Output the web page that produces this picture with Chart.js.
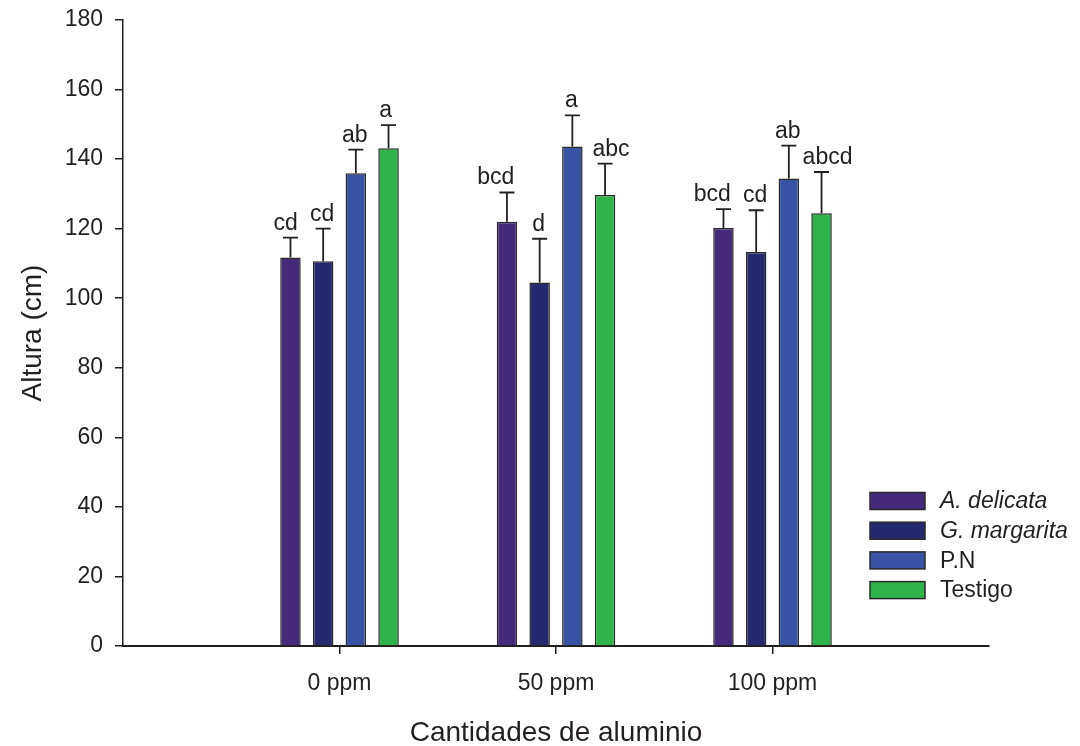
<!DOCTYPE html>
<html>
<head>
<meta charset="utf-8">
<script src="https://cdn.jsdelivr.net/npm/chart.js@4.4.1/dist/chart.umd.min.js"></script>
<style>
  html, body { margin: 0; padding: 0; background: #ffffff; }
  #wrap { width: 1080px; height: 746px; position: relative; }
</style>
</head>
<body>
<div id="wrap"><canvas id="c" width="1080" height="746"></canvas></div>
<script>
// ---- data ----
const categories = ['0 ppm', '50 ppm', '100 ppm'];
const seriesNames = ['A. delicata', 'G. margarita', 'P.N', 'Testigo'];
const aDelicata  = [111.7, 122.0, 120.2];
const gMargarita = [110.6, 104.5, 113.3];
const pn         = [135.9, 143.6, 134.4];
const testigo    = [143.1, 129.7, 124.4];
const errADelicata  = [5.7, 8.4, 5.4];
const errGMargarita = [9.4, 12.6, 12.0];
const errPn         = [6.8, 9.0, 9.5];
const errTestigo    = [6.7, 9.0, 11.9];
const letADelicata  = ['cd', 'bcd', 'bcd'];
const letGMargarita = ['cd', 'd', 'cd'];
const letPn         = ['ab', 'a', 'ab'];
const letTestigo    = ['a', 'abc', 'abcd'];
const yTicks = [0, 20, 40, 60, 80, 100, 120, 140, 160, 180];

// ---- styles ----
const colors = ['#45297b', '#252a70', '#3853a3', '#2fb34b'];
const italicNames = [true, true, false, false];
const FONT = 'Arial, "Liberation Sans", Helvetica, sans-serif';
const INK = '#231f20';

const values = [aDelicata, gMargarita, pn, testigo];
const errs = [errADelicata, errGMargarita, errPn, errTestigo];
const lets = [letADelicata, letGMargarita, letPn, letTestigo];

// padded labels: empty slot on each side of the categories
const labels = [''].concat(categories, ['']);
const pad = arr => [null].concat(arr, [null]);

const datasets = seriesNames.map((name, i) => ({
  label: name,
  data: pad(values[i]),
  errors: pad(errs[i]),
  letters: pad(lets[i]),
  backgroundColor: colors[i],
  borderColor: '#2a2a2a',
  borderWidth: 1.5,
  borderSkipped: 'bottom',
  categoryPercentage: 0.604,
  barPercentage: 0.627
}));

const errorBarPlugin = {
  id: 'errorBars',
  afterDatasetsDraw(chart) {
    const ctx = chart.ctx;
    const y = chart.scales.y;
    const nds = chart.data.datasets.length;
    ctx.save();
    chart.data.datasets.forEach((ds, di) => {
      const meta = chart.getDatasetMeta(di);
      meta.data.forEach((bar, idx) => {
        const v = ds.data[idx];
        if (v === null || v === undefined) return;
        const e = ds.errors[idx];
        const topY = y.getPixelForValue(v + e);
        const x = bar.x;
        ctx.strokeStyle = INK;
        ctx.lineWidth = 1.8;
        ctx.beginPath();
        ctx.moveTo(x, bar.y);
        ctx.lineTo(x, topY);
        ctx.moveTo(x - 7.5, topY);
        ctx.lineTo(x + 7.5, topY);
        ctx.stroke();
        ctx.fillStyle = INK;
        ctx.font = '23px ' + FONT;
        ctx.textBaseline = 'alphabetic';
        const txt = ds.letters[idx];
        const tw = ctx.measureText(txt).width;
        let tx = x;
        if (di === 0) {
          ctx.textAlign = 'right';
          tx = x + bar.width / 2 - 3;
        } else if (di === nds - 1) {
          ctx.textAlign = 'center';
          tx = x + (tw > bar.width ? 6 : -3);
        } else {
          ctx.textAlign = 'center';
          tx = x - 1;
        }
        ctx.fillText(txt, tx, topY - 8);
      });
    });
    ctx.restore();
  }
};

const legendPlugin = {
  id: 'customLegend',
  afterDraw(chart) {
    const ctx = chart.ctx;
    ctx.save();
    const bx = 870, bw = 55, bh = 17, y0 = 501, step = 29.7;
    chart.data.datasets.forEach((ds, i) => {
      const cy = y0 + i * step;
      ctx.fillStyle = ds.backgroundColor;
      ctx.fillRect(bx, cy - bh / 2, bw, bh);
      ctx.strokeStyle = '#2a2a2a';
      ctx.lineWidth = 1.5;
      ctx.strokeRect(bx, cy - bh / 2, bw, bh);
      ctx.fillStyle = INK;
      ctx.font = (italicNames[i] ? 'italic ' : '') + '23px ' + FONT;
      ctx.textAlign = 'left';
      ctx.textBaseline = 'middle';
      ctx.fillText(ds.label, 940, cy + 1);
    });
    ctx.restore();
  }
};

new Chart(document.getElementById('c'), {
  type: 'bar',
  data: { labels: labels, datasets: datasets },
  options: {
    responsive: false,
    animation: false,
    devicePixelRatio: 1,
    layout: { padding: { top: 20, right: 91, left: 0, bottom: 0 } },
    plugins: {
      legend: { display: false },
      tooltip: { enabled: false }
    },
    scales: {
      x: {
        type: 'category',
        offset: false,
        afterFit(scale) { scale.height = 100; scale.paddingLeft = 0; scale.paddingRight = 0; },
        grid: {
          display: true,
          offset: false,
          drawOnChartArea: false,
          drawTicks: true,
          tickLength: 8,
          lineWidth: 1.5,
          color: ctx => (ctx.index === 0 || ctx.index === labels.length - 1) ? 'rgba(0,0,0,0)' : INK
        },
        border: { display: true, color: INK, width: 2 },
        ticks: {
          color: INK,
          font: { family: FONT, size: 23 },
          padding: 16,
          maxRotation: 0,
          autoSkip: false
        },
        title: {
          display: true,
          text: 'Cantidades de aluminio',
          color: INK,
          font: { family: FONT, size: 28 },
          padding: { top: 0, bottom: -4 }
        }
      },
      y: {
        min: 0,
        max: 180,
        afterFit(scale) { scale.width = 123; scale.paddingTop = 0; scale.paddingBottom = 0; },
        afterBuildTicks(scale) { scale.ticks = yTicks.map(v => ({ value: v })); },
        grid: {
          display: true,
          drawOnChartArea: false,
          drawTicks: true,
          tickLength: 8,
          lineWidth: 1.5,
          color: INK
        },
        border: { display: true, color: INK, width: 1.5 },
        ticks: {
          color: INK,
          font: { family: FONT, size: 23 },
          padding: 12
        },
        title: {
          display: true,
          text: 'Altura (cm)',
          color: INK,
          font: { family: FONT, size: 28 },
          padding: { top: 16, bottom: 0 }
        }
      }
    }
  },
  plugins: [errorBarPlugin, legendPlugin]
});
</script>
</body>
</html>
